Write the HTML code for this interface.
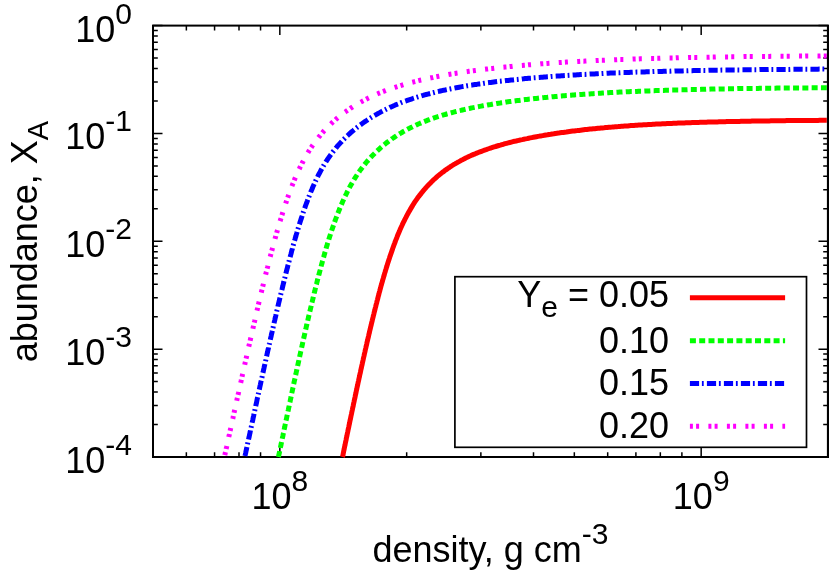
<!DOCTYPE html>
<html><head><meta charset="utf-8"><title>abundance vs density</title>
<style>
html,body{margin:0;padding:0;background:#fff;}
body{width:830px;height:573px;overflow:hidden;}
svg{display:block;will-change:transform;}
text{font-family:"Liberation Sans",sans-serif;font-size:36px;fill:#000;}
.s{font-size:30px;}
</style></head><body>
<svg width="830" height="573" viewBox="0 0 830 573">
<rect width="830" height="573" fill="#fff"/>
<path d="M279.83 457.00V447.50 M279.83 25.60V35.10 M701.17 457.00V447.50 M701.17 25.60V35.10 M186.36 457.00V452.20 M186.36 25.60V30.40 M214.57 457.00V452.20 M214.57 25.60V30.40 M239.00 457.00V452.20 M239.00 25.60V30.40 M260.55 457.00V452.20 M260.55 25.60V30.40 M406.67 457.00V452.20 M406.67 25.60V30.40 M480.86 457.00V452.20 M480.86 25.60V30.40 M533.50 457.00V452.20 M533.50 25.60V30.40 M574.33 457.00V452.20 M574.33 25.60V30.40 M607.69 457.00V452.20 M607.69 25.60V30.40 M635.90 457.00V452.20 M635.90 25.60V30.40 M660.33 457.00V452.20 M660.33 25.60V30.40 M681.89 457.00V452.20 M681.89 25.60V30.40 M153.00 25.60H162.50 M828.00 25.60H818.50 M153.00 100.98H157.80 M828.00 100.98H823.20 M153.00 81.99H157.80 M828.00 81.99H823.20 M153.00 68.52H157.80 M828.00 68.52H823.20 M153.00 58.07H157.80 M828.00 58.07H823.20 M153.00 49.53H157.80 M828.00 49.53H823.20 M153.00 42.31H157.80 M828.00 42.31H823.20 M153.00 36.05H157.80 M828.00 36.05H823.20 M153.00 30.53H157.80 M828.00 30.53H823.20 M153.00 133.45H162.50 M828.00 133.45H818.50 M153.00 208.83H157.80 M828.00 208.83H823.20 M153.00 189.84H157.80 M828.00 189.84H823.20 M153.00 176.37H157.80 M828.00 176.37H823.20 M153.00 165.92H157.80 M828.00 165.92H823.20 M153.00 157.38H157.80 M828.00 157.38H823.20 M153.00 150.16H157.80 M828.00 150.16H823.20 M153.00 143.90H157.80 M828.00 143.90H823.20 M153.00 138.38H157.80 M828.00 138.38H823.20 M153.00 241.30H162.50 M828.00 241.30H818.50 M153.00 316.68H157.80 M828.00 316.68H823.20 M153.00 297.69H157.80 M828.00 297.69H823.20 M153.00 284.22H157.80 M828.00 284.22H823.20 M153.00 273.77H157.80 M828.00 273.77H823.20 M153.00 265.23H157.80 M828.00 265.23H823.20 M153.00 258.01H157.80 M828.00 258.01H823.20 M153.00 251.75H157.80 M828.00 251.75H823.20 M153.00 246.23H157.80 M828.00 246.23H823.20 M153.00 349.15H162.50 M828.00 349.15H818.50 M153.00 424.53H157.80 M828.00 424.53H823.20 M153.00 405.54H157.80 M828.00 405.54H823.20 M153.00 392.07H157.80 M828.00 392.07H823.20 M153.00 381.62H157.80 M828.00 381.62H823.20 M153.00 373.08H157.80 M828.00 373.08H823.20 M153.00 365.86H157.80 M828.00 365.86H823.20 M153.00 359.60H157.80 M828.00 359.60H823.20 M153.00 354.08H157.80 M828.00 354.08H823.20 M153.00 457.00H162.50 M828.00 457.00H818.50" stroke="#000" stroke-width="1.5" fill="none"/>
<rect x="153" y="25.6" width="675" height="431.4" fill="none" stroke="#000" stroke-width="2"/>
<g fill="none" stroke-width="5" stroke-linejoin="round">
<path d="M342.5 457.0 L342.9 455.5 L343.3 453.3 L343.7 451.1 L344.2 448.9 L344.6 446.8 L345.1 444.6 L345.5 442.4 L346.0 440.2 L346.4 438.0 L346.9 435.9 L347.3 433.7 L347.8 431.5 L348.2 429.4 L348.7 427.2 L349.1 425.1 L349.6 422.9 L350.0 420.7 L350.5 418.6 L350.9 416.5 L351.4 414.3 L351.8 412.2 L352.3 410.0 L352.7 407.9 L353.2 405.8 L353.6 403.6 L354.1 401.5 L354.5 399.4 L355.0 397.3 L355.4 395.2 L355.9 393.1 L356.3 391.0 L356.8 388.9 L357.2 386.8 L357.7 384.7 L358.1 382.6 L358.6 380.5 L359.0 378.5 L359.5 376.4 L359.9 374.3 L360.4 372.3 L360.8 370.2 L361.3 368.2 L361.7 366.1 L362.2 364.1 L362.6 362.1 L363.1 360.0 L363.5 358.0 L364.0 356.0 L364.4 354.0 L364.9 352.0 L365.3 350.0 L365.8 348.0 L366.2 346.1 L366.7 344.1 L367.1 342.1 L367.6 340.2 L368.0 338.3 L368.5 336.3 L368.9 334.4 L369.4 332.5 L369.8 330.6 L370.3 328.7 L370.7 326.8 L371.2 324.9 L371.6 323.0 L372.1 321.1 L372.5 319.3 L373.0 317.4 L373.4 315.6 L373.9 313.8 L374.3 312.0 L374.8 310.2 L375.2 308.4 L375.7 306.6 L376.1 304.8 L376.6 303.1 L377.0 301.3 L377.5 299.6 L377.9 297.9 L378.3 296.2 L378.8 294.5 L379.2 292.8 L379.7 291.1 L380.1 289.4 L380.6 287.8 L381.0 286.1 L381.5 284.5 L381.9 282.9 L382.4 281.3 L382.8 279.7 L383.3 278.2 L383.7 276.6 L384.2 275.1 L384.6 273.5 L385.1 272.0 L385.5 270.5 L386.0 269.0 L386.4 267.6 L386.9 266.1 L387.3 264.7 L388.0 262.5 L388.7 260.4 L389.4 258.3 L390.0 256.3 L390.7 254.3 L391.4 252.3 L392.1 250.4 L392.7 248.5 L393.4 246.6 L394.1 244.7 L394.8 242.9 L395.4 241.1 L396.1 239.4 L396.8 237.7 L397.4 236.0 L398.1 234.3 L398.8 232.7 L399.5 231.1 L400.1 229.6 L400.8 228.0 L401.5 226.5 L402.2 225.0 L402.8 223.6 L403.5 222.2 L404.2 220.8 L404.9 219.4 L405.8 217.7 L406.7 215.9 L407.6 214.2 L408.5 212.6 L409.4 211.0 L410.3 209.4 L411.2 207.9 L412.1 206.4 L412.9 205.0 L413.8 203.6 L414.7 202.2 L415.6 200.9 L416.5 199.6 L417.4 198.3 L418.3 197.1 L419.2 195.9 L420.4 194.4 L421.5 192.9 L422.6 191.6 L423.7 190.2 L424.9 188.9 L426.0 187.6 L427.1 186.4 L428.2 185.2 L429.4 184.0 L430.5 182.9 L431.6 181.8 L432.7 180.7 L433.8 179.6 L435.0 178.6 L436.1 177.6 L437.4 176.4 L438.8 175.3 L440.1 174.2 L441.5 173.1 L442.8 172.1 L444.2 171.1 L445.5 170.1 L446.9 169.1 L448.2 168.2 L449.6 167.3 L450.9 166.4 L452.3 165.5 L453.6 164.7 L455.0 163.9 L456.3 163.1 L457.7 162.3 L459.0 161.6 L460.4 160.8 L461.7 160.1 L463.1 159.4 L464.4 158.7 L465.7 158.0 L467.3 157.3 L468.9 156.5 L470.5 155.8 L472.0 155.1 L473.6 154.4 L475.2 153.8 L476.8 153.1 L478.3 152.5 L479.9 151.9 L481.5 151.3 L483.0 150.7 L484.6 150.1 L486.2 149.6 L487.8 149.0 L489.3 148.5 L490.9 148.0 L492.5 147.4 L494.1 146.9 L495.6 146.5 L497.2 146.0 L498.8 145.5 L500.3 145.1 L501.9 144.6 L503.5 144.2 L505.1 143.7 L506.6 143.3 L508.2 142.9 L509.8 142.5 L511.4 142.1 L512.9 141.7 L514.5 141.3 L516.1 141.0 L517.6 140.6 L519.2 140.3 L520.8 139.9 L522.4 139.6 L523.9 139.2 L525.5 138.9 L527.1 138.6 L528.7 138.2 L530.2 137.9 L531.8 137.6 L533.4 137.3 L534.9 137.0 L536.5 136.7 L538.1 136.4 L539.7 136.1 L541.2 135.9 L542.8 135.6 L544.4 135.3 L546.0 135.0 L547.5 134.8 L549.1 134.5 L550.7 134.3 L552.2 134.0 L553.8 133.8 L555.4 133.5 L557.0 133.3 L558.5 133.1 L560.1 132.8 L561.7 132.6 L563.3 132.4 L564.8 132.2 L566.4 132.0 L568.0 131.7 L569.5 131.5 L571.1 131.3 L572.7 131.1 L574.3 130.9 L575.8 130.7 L577.4 130.6 L579.0 130.4 L580.6 130.2 L582.1 130.0 L583.7 129.8 L585.3 129.6 L586.8 129.5 L588.4 129.3 L590.0 129.1 L591.6 129.0 L593.1 128.8 L594.7 128.7 L596.3 128.5 L597.9 128.3 L599.4 128.2 L601.0 128.0 L602.6 127.9 L604.1 127.8 L605.7 127.6 L607.3 127.5 L608.9 127.3 L610.4 127.2 L612.0 127.1 L613.6 126.9 L615.2 126.8 L616.7 126.7 L618.3 126.6 L619.9 126.4 L621.4 126.3 L623.0 126.2 L624.6 126.1 L626.2 126.0 L627.7 125.9 L629.3 125.7 L630.9 125.6 L632.5 125.5 L634.0 125.4 L635.6 125.3 L637.2 125.2 L638.7 125.1 L640.3 125.0 L641.9 124.9 L643.5 124.8 L645.0 124.7 L646.6 124.7 L648.2 124.6 L649.8 124.5 L651.3 124.4 L652.9 124.3 L654.5 124.2 L656.0 124.1 L657.6 124.1 L659.2 124.0 L660.8 123.9 L662.3 123.8 L663.9 123.8 L665.5 123.7 L667.1 123.6 L668.6 123.5 L670.2 123.5 L671.8 123.4 L673.3 123.3 L674.9 123.3 L676.5 123.2 L678.1 123.1 L679.6 123.1 L681.2 123.0 L682.8 122.9 L684.4 122.9 L685.9 122.8 L687.5 122.8 L689.1 122.7 L690.6 122.7 L692.2 122.6 L693.8 122.6 L695.4 122.5 L696.9 122.5 L698.5 122.4 L700.1 122.3 L701.7 122.3 L703.2 122.3 L704.8 122.2 L706.4 122.2 L707.9 122.1 L709.5 122.1 L711.1 122.0 L712.7 122.0 L714.2 121.9 L715.8 121.9 L717.4 121.9 L719.0 121.8 L720.5 121.8 L722.1 121.7 L723.7 121.7 L725.2 121.7 L726.8 121.6 L728.4 121.6 L730.0 121.6 L731.5 121.5 L733.1 121.5 L734.7 121.5 L736.3 121.4 L737.8 121.4 L739.4 121.4 L741.0 121.3 L742.5 121.3 L744.1 121.3 L745.7 121.2 L747.3 121.2 L748.8 121.2 L750.4 121.2 L752.0 121.1 L753.6 121.1 L755.1 121.1 L756.7 121.1 L758.3 121.0 L759.8 121.0 L761.4 121.0 L763.0 121.0 L764.6 120.9 L766.1 120.9 L767.7 120.9 L769.3 120.9 L770.9 120.8 L772.4 120.8 L774.0 120.8 L775.6 120.8 L777.1 120.8 L778.7 120.7 L780.3 120.7 L781.9 120.7 L783.4 120.7 L785.0 120.7 L786.6 120.6 L788.2 120.6 L789.7 120.6 L791.3 120.6 L792.9 120.6 L794.4 120.6 L796.0 120.5 L797.6 120.5 L799.2 120.5 L800.7 120.5 L802.3 120.5 L803.9 120.5 L805.5 120.5 L807.0 120.4 L808.6 120.4 L810.2 120.4 L811.7 120.4 L813.3 120.4 L814.9 120.4 L816.5 120.4 L818.0 120.4 L819.6 120.3 L821.2 120.3 L822.8 120.3 L824.3 120.3 L825.9 120.3 L826.8 120.3" stroke="#ff0000"/>
<path d="M278.5 457.0 L278.8 455.2 L279.3 453.1 L279.7 450.9 L280.2 448.7 L280.6 446.6 L281.1 444.4 L281.5 442.2 L282.0 440.1 L282.4 437.9 L282.9 435.8 L283.3 433.6 L283.8 431.5 L284.2 429.3 L284.7 427.1 L285.1 425.0 L285.6 422.8 L286.0 420.7 L286.5 418.6 L286.9 416.4 L287.4 414.3 L287.8 412.1 L288.3 410.0 L288.7 407.9 L289.2 405.7 L289.6 403.6 L290.1 401.5 L290.5 399.3 L291.0 397.2 L291.4 395.1 L291.8 393.0 L292.3 390.9 L292.7 388.8 L293.2 386.7 L293.6 384.5 L294.1 382.4 L294.5 380.3 L295.0 378.3 L295.4 376.2 L295.9 374.1 L296.3 372.0 L296.8 369.9 L297.2 367.8 L297.7 365.7 L298.1 363.7 L298.6 361.6 L299.0 359.5 L299.5 357.5 L299.9 355.4 L300.4 353.4 L300.8 351.3 L301.3 349.3 L301.7 347.3 L302.2 345.2 L302.6 343.2 L303.1 341.2 L303.5 339.2 L304.0 337.2 L304.4 335.2 L304.9 333.2 L305.3 331.2 L305.8 329.2 L306.2 327.2 L306.7 325.2 L307.1 323.3 L307.6 321.3 L308.0 319.4 L308.5 317.4 L308.9 315.5 L309.4 313.5 L309.8 311.6 L310.3 309.7 L310.7 307.8 L311.2 305.9 L311.6 304.0 L312.1 302.1 L312.5 300.3 L313.0 298.4 L313.4 296.5 L313.9 294.7 L314.3 292.8 L314.8 291.0 L315.2 289.2 L315.7 287.4 L316.1 285.6 L316.6 283.8 L317.0 282.0 L317.5 280.2 L317.9 278.5 L318.4 276.7 L318.8 275.0 L319.3 273.3 L319.7 271.6 L320.2 269.9 L320.6 268.2 L321.1 266.5 L321.5 264.8 L322.0 263.2 L322.4 261.5 L322.9 259.9 L323.3 258.3 L323.8 256.7 L324.2 255.1 L324.7 253.5 L325.1 251.9 L325.6 250.4 L326.0 248.9 L326.4 247.3 L326.9 245.8 L327.3 244.3 L327.8 242.8 L328.2 241.4 L328.7 239.9 L329.1 238.5 L329.8 236.3 L330.5 234.2 L331.2 232.1 L331.8 230.1 L332.5 228.1 L333.2 226.1 L333.9 224.2 L334.5 222.3 L335.2 220.4 L335.9 218.5 L336.6 216.7 L337.2 214.9 L337.9 213.2 L338.6 211.4 L339.3 209.8 L339.9 208.1 L340.6 206.5 L341.3 204.9 L342.0 203.3 L342.6 201.7 L343.3 200.2 L344.0 198.7 L344.6 197.3 L345.3 195.9 L346.0 194.5 L346.7 193.1 L347.3 191.7 L348.2 190.0 L349.1 188.3 L350.0 186.6 L350.9 185.0 L351.8 183.4 L352.7 181.8 L353.6 180.3 L354.5 178.8 L355.4 177.4 L356.3 176.0 L357.2 174.6 L358.1 173.3 L359.0 172.0 L359.9 170.7 L360.8 169.4 L361.7 168.2 L362.8 166.7 L364.0 165.3 L365.1 163.9 L366.2 162.5 L367.3 161.2 L368.5 159.9 L369.6 158.6 L370.7 157.4 L371.8 156.2 L373.0 155.0 L374.1 153.9 L375.2 152.8 L376.3 151.7 L377.5 150.6 L378.6 149.6 L379.7 148.6 L381.0 147.4 L382.4 146.2 L383.7 145.1 L385.1 144.0 L386.4 142.9 L387.8 141.9 L389.1 140.9 L390.5 139.9 L391.8 138.9 L393.2 138.0 L394.5 137.1 L395.9 136.2 L397.2 135.3 L398.6 134.4 L399.9 133.6 L401.3 132.8 L402.6 132.0 L404.0 131.2 L405.3 130.5 L406.7 129.7 L408.0 129.0 L409.4 128.3 L410.7 127.6 L412.1 127.0 L413.6 126.2 L415.2 125.5 L416.8 124.7 L418.3 124.0 L419.9 123.4 L421.5 122.7 L423.1 122.0 L424.6 121.4 L426.2 120.8 L427.8 120.2 L429.4 119.6 L430.9 119.0 L432.5 118.5 L434.1 117.9 L435.6 117.4 L437.2 116.9 L438.8 116.4 L440.4 115.9 L441.9 115.4 L443.5 114.9 L445.1 114.5 L446.7 114.0 L448.2 113.6 L449.8 113.1 L451.4 112.7 L452.9 112.3 L454.5 111.9 L456.1 111.5 L457.7 111.1 L459.2 110.7 L460.8 110.4 L462.4 110.0 L464.0 109.6 L465.5 109.3 L467.1 108.9 L468.7 108.6 L470.2 108.3 L471.8 107.9 L473.4 107.6 L475.0 107.3 L476.5 107.0 L478.1 106.7 L479.7 106.4 L481.3 106.1 L482.8 105.8 L484.4 105.5 L486.0 105.3 L487.5 105.0 L489.1 104.7 L490.7 104.5 L492.3 104.2 L493.8 103.9 L495.4 103.7 L497.0 103.4 L498.5 103.2 L500.1 103.0 L501.7 102.7 L503.3 102.5 L504.8 102.3 L506.4 102.0 L508.0 101.8 L509.6 101.6 L511.1 101.4 L512.7 101.2 L514.3 101.0 L515.8 100.8 L517.4 100.6 L519.0 100.4 L520.6 100.2 L522.1 100.0 L523.7 99.8 L525.3 99.6 L526.9 99.4 L528.4 99.2 L530.0 99.1 L531.6 98.9 L533.1 98.7 L534.7 98.5 L536.3 98.4 L537.9 98.2 L539.4 98.0 L541.0 97.9 L542.6 97.7 L544.2 97.6 L545.7 97.4 L547.3 97.3 L548.9 97.1 L550.4 97.0 L552.0 96.8 L553.6 96.7 L555.2 96.5 L556.7 96.4 L558.3 96.2 L559.9 96.1 L561.5 96.0 L563.0 95.8 L564.6 95.7 L566.2 95.6 L567.7 95.5 L569.3 95.3 L570.9 95.2 L572.5 95.1 L574.0 95.0 L575.6 94.8 L577.2 94.7 L578.8 94.6 L580.3 94.5 L581.9 94.4 L583.5 94.3 L585.0 94.2 L586.6 94.1 L588.2 94.0 L589.8 93.9 L591.3 93.8 L592.9 93.7 L594.5 93.6 L596.1 93.5 L597.6 93.4 L599.2 93.3 L600.8 93.2 L602.3 93.1 L603.9 93.0 L605.5 92.9 L607.1 92.8 L608.6 92.7 L610.2 92.6 L611.8 92.6 L613.4 92.5 L614.9 92.4 L616.5 92.3 L618.1 92.2 L619.6 92.1 L621.2 92.1 L622.8 92.0 L624.4 91.9 L625.9 91.8 L627.5 91.8 L629.1 91.7 L630.7 91.6 L632.2 91.6 L633.8 91.5 L635.4 91.4 L636.9 91.4 L638.5 91.3 L640.1 91.2 L641.7 91.2 L643.2 91.1 L644.8 91.0 L646.4 91.0 L648.0 90.9 L649.5 90.9 L651.1 90.8 L652.7 90.7 L654.2 90.7 L655.8 90.6 L657.4 90.6 L659.0 90.5 L660.5 90.5 L662.1 90.4 L663.7 90.4 L665.3 90.3 L666.8 90.3 L668.4 90.2 L670.0 90.2 L671.5 90.1 L673.1 90.1 L674.7 90.0 L676.3 90.0 L677.8 89.9 L679.4 89.9 L681.0 89.8 L682.6 89.8 L684.1 89.8 L685.7 89.7 L687.3 89.7 L688.8 89.6 L690.4 89.6 L692.0 89.6 L693.6 89.5 L695.1 89.5 L696.7 89.4 L698.3 89.4 L699.9 89.4 L701.4 89.3 L703.0 89.3 L704.6 89.3 L706.1 89.2 L707.7 89.2 L709.3 89.2 L710.9 89.1 L712.4 89.1 L714.0 89.1 L715.6 89.0 L717.2 89.0 L718.7 89.0 L720.3 88.9 L721.9 88.9 L723.4 88.9 L725.0 88.9 L726.6 88.8 L728.2 88.8 L729.7 88.8 L731.3 88.8 L732.9 88.7 L734.5 88.7 L736.0 88.7 L737.6 88.6 L739.2 88.6 L740.7 88.6 L742.3 88.6 L743.9 88.6 L745.5 88.5 L747.0 88.5 L748.6 88.5 L750.2 88.5 L751.8 88.4 L753.3 88.4 L754.9 88.4 L756.5 88.4 L758.0 88.4 L759.6 88.3 L761.2 88.3 L762.8 88.3 L764.3 88.3 L765.9 88.3 L767.5 88.2 L769.1 88.2 L770.6 88.2 L772.2 88.2 L773.8 88.2 L775.3 88.2 L776.9 88.1 L778.5 88.1 L780.1 88.1 L781.6 88.1 L783.2 88.1 L784.8 88.1 L786.4 88.0 L787.9 88.0 L789.5 88.0 L791.1 88.0 L792.6 88.0 L794.2 88.0 L795.8 88.0 L797.4 87.9 L798.9 87.9 L800.5 87.9 L802.1 87.9 L803.7 87.9 L805.2 87.9 L806.8 87.9 L808.4 87.9 L809.9 87.8 L811.5 87.8 L813.1 87.8 L814.7 87.8 L816.2 87.8 L817.8 87.8 L819.4 87.8 L821.0 87.8 L822.5 87.8 L824.1 87.7 L825.7 87.7 L826.8 87.7" stroke="#00ff00" stroke-dasharray="6 3.3"/>
<path d="M244.8 457.0 L245.1 455.5 L245.6 453.3 L246.0 451.2 L246.5 449.1 L246.9 447.0 L247.4 444.9 L247.8 442.8 L248.3 440.7 L248.7 438.7 L249.2 436.6 L249.6 434.5 L250.1 432.4 L250.5 430.3 L251.0 428.2 L251.4 426.1 L251.9 424.0 L252.3 421.9 L252.8 419.8 L253.2 417.7 L253.7 415.6 L254.1 413.6 L254.6 411.5 L255.0 409.4 L255.5 407.3 L255.9 405.2 L256.4 403.2 L256.8 401.1 L257.2 399.0 L257.7 396.9 L258.1 394.9 L258.6 392.8 L259.0 390.7 L259.5 388.7 L259.9 386.6 L260.4 384.5 L260.8 382.5 L261.3 380.4 L261.7 378.4 L262.2 376.3 L262.6 374.3 L263.1 372.2 L263.5 370.2 L264.0 368.1 L264.4 366.1 L264.9 364.0 L265.3 362.0 L265.8 360.0 L266.2 357.9 L266.7 355.9 L267.1 353.9 L267.6 351.9 L268.0 349.8 L268.5 347.8 L268.9 345.8 L269.4 343.8 L269.8 341.8 L270.3 339.8 L270.7 337.8 L271.2 335.8 L271.6 333.8 L272.1 331.8 L272.5 329.8 L273.0 327.9 L273.4 325.9 L273.9 323.9 L274.3 322.0 L274.8 320.0 L275.2 318.0 L275.7 316.1 L276.1 314.2 L276.6 312.2 L277.0 310.3 L277.5 308.4 L277.9 306.4 L278.4 304.5 L278.8 302.6 L279.3 300.7 L279.7 298.8 L280.2 296.9 L280.6 295.0 L281.1 293.1 L281.5 291.3 L282.0 289.4 L282.4 287.6 L282.9 285.7 L283.3 283.9 L283.8 282.0 L284.2 280.2 L284.7 278.4 L285.1 276.6 L285.6 274.8 L286.0 273.0 L286.5 271.2 L286.9 269.4 L287.4 267.7 L287.8 265.9 L288.3 264.2 L288.7 262.4 L289.2 260.7 L289.6 259.0 L290.1 257.3 L290.5 255.6 L291.0 253.9 L291.4 252.2 L291.8 250.5 L292.3 248.9 L292.7 247.2 L293.2 245.6 L293.6 244.0 L294.1 242.4 L294.5 240.8 L295.0 239.2 L295.4 237.6 L295.9 236.1 L296.3 234.5 L296.8 233.0 L297.2 231.5 L297.7 230.0 L298.1 228.5 L298.6 227.0 L299.0 225.5 L299.5 224.1 L299.9 222.6 L300.6 220.5 L301.3 218.4 L302.0 216.3 L302.6 214.2 L303.3 212.2 L304.0 210.2 L304.7 208.3 L305.3 206.4 L306.0 204.5 L306.7 202.6 L307.4 200.8 L308.0 199.0 L308.7 197.2 L309.4 195.5 L310.0 193.8 L310.7 192.1 L311.4 190.5 L312.1 188.9 L312.7 187.3 L313.4 185.8 L314.1 184.3 L314.8 182.8 L315.4 181.3 L316.1 179.9 L316.8 178.5 L317.5 177.1 L318.1 175.7 L319.0 174.0 L319.9 172.3 L320.8 170.6 L321.7 169.0 L322.6 167.4 L323.5 165.8 L324.4 164.3 L325.3 162.9 L326.2 161.4 L327.1 160.0 L328.0 158.7 L328.9 157.4 L329.8 156.1 L330.7 154.8 L331.6 153.6 L332.5 152.4 L333.6 150.9 L334.8 149.5 L335.9 148.1 L337.0 146.7 L338.1 145.4 L339.3 144.1 L340.4 142.9 L341.5 141.7 L342.6 140.5 L343.7 139.3 L344.9 138.2 L346.0 137.1 L347.1 136.0 L348.2 135.0 L349.4 133.9 L350.5 132.9 L351.8 131.7 L353.2 130.6 L354.5 129.5 L355.9 128.4 L357.2 127.3 L358.6 126.3 L359.9 125.2 L361.3 124.2 L362.6 123.3 L364.0 122.3 L365.3 121.4 L366.7 120.5 L368.0 119.6 L369.4 118.7 L370.7 117.8 L372.1 117.0 L373.4 116.2 L374.8 115.4 L376.1 114.6 L377.5 113.8 L378.8 113.1 L380.1 112.4 L381.5 111.6 L382.8 110.9 L384.2 110.2 L385.5 109.6 L386.9 108.9 L388.5 108.2 L390.0 107.4 L391.6 106.7 L393.2 106.0 L394.8 105.3 L396.3 104.6 L397.9 104.0 L399.5 103.4 L401.0 102.7 L402.6 102.1 L404.2 101.5 L405.8 101.0 L407.3 100.4 L408.9 99.8 L410.5 99.3 L412.1 98.8 L413.6 98.2 L415.2 97.7 L416.8 97.2 L418.3 96.8 L419.9 96.3 L421.5 95.8 L423.1 95.4 L424.6 94.9 L426.2 94.5 L427.8 94.1 L429.4 93.7 L430.9 93.3 L432.5 92.9 L434.1 92.5 L435.6 92.1 L437.2 91.7 L438.8 91.4 L440.4 91.0 L441.9 90.6 L443.5 90.3 L445.1 90.0 L446.7 89.6 L448.2 89.3 L449.8 89.0 L451.4 88.7 L452.9 88.4 L454.5 88.1 L456.1 87.8 L457.7 87.5 L459.2 87.2 L460.8 86.9 L462.4 86.6 L464.0 86.4 L465.5 86.1 L467.1 85.8 L468.7 85.6 L470.2 85.3 L471.8 85.1 L473.4 84.8 L475.0 84.6 L476.5 84.4 L478.1 84.1 L479.7 83.9 L481.3 83.7 L482.8 83.5 L484.4 83.2 L486.0 83.0 L487.5 82.8 L489.1 82.6 L490.7 82.4 L492.3 82.2 L493.8 82.0 L495.4 81.8 L497.0 81.6 L498.5 81.4 L500.1 81.3 L501.7 81.1 L503.3 80.9 L504.8 80.7 L506.4 80.5 L508.0 80.4 L509.6 80.2 L511.1 80.0 L512.7 79.9 L514.3 79.7 L515.8 79.5 L517.4 79.4 L519.0 79.2 L520.6 79.1 L522.1 78.9 L523.7 78.8 L525.3 78.6 L526.9 78.5 L528.4 78.3 L530.0 78.2 L531.6 78.1 L533.1 77.9 L534.7 77.8 L536.3 77.7 L537.9 77.5 L539.4 77.4 L541.0 77.3 L542.6 77.2 L544.2 77.0 L545.7 76.9 L547.3 76.8 L548.9 76.7 L550.4 76.6 L552.0 76.4 L553.6 76.3 L555.2 76.2 L556.7 76.1 L558.3 76.0 L559.9 75.9 L561.5 75.8 L563.0 75.7 L564.6 75.6 L566.2 75.5 L567.7 75.4 L569.3 75.3 L570.9 75.2 L572.5 75.1 L574.0 75.0 L575.6 74.9 L577.2 74.8 L578.8 74.7 L580.3 74.6 L581.9 74.5 L583.5 74.4 L585.0 74.4 L586.6 74.3 L588.2 74.2 L589.8 74.1 L591.3 74.0 L592.9 74.0 L594.5 73.9 L596.1 73.8 L597.6 73.7 L599.2 73.6 L600.8 73.6 L602.3 73.5 L603.9 73.4 L605.5 73.4 L607.1 73.3 L608.6 73.2 L610.2 73.1 L611.8 73.1 L613.4 73.0 L614.9 72.9 L616.5 72.9 L618.1 72.8 L619.6 72.8 L621.2 72.7 L622.8 72.6 L624.4 72.6 L625.9 72.5 L627.5 72.5 L629.1 72.4 L630.7 72.3 L632.2 72.3 L633.8 72.2 L635.4 72.2 L636.9 72.1 L638.5 72.1 L640.1 72.0 L641.7 72.0 L643.2 71.9 L644.8 71.9 L646.4 71.8 L648.0 71.8 L649.5 71.7 L651.1 71.7 L652.7 71.6 L654.2 71.6 L655.8 71.5 L657.4 71.5 L659.0 71.4 L660.5 71.4 L662.1 71.4 L663.7 71.3 L665.3 71.3 L666.8 71.2 L668.4 71.2 L670.0 71.2 L671.5 71.1 L673.1 71.1 L674.7 71.0 L676.3 71.0 L677.8 71.0 L679.4 70.9 L681.0 70.9 L682.6 70.9 L684.1 70.8 L685.7 70.8 L687.3 70.8 L688.8 70.7 L690.4 70.7 L692.0 70.7 L693.6 70.6 L695.1 70.6 L696.7 70.6 L698.3 70.5 L699.9 70.5 L701.4 70.5 L703.0 70.4 L704.6 70.4 L706.1 70.4 L707.7 70.4 L709.3 70.3 L710.9 70.3 L712.4 70.3 L714.0 70.3 L715.6 70.2 L717.2 70.2 L718.7 70.2 L720.3 70.2 L721.9 70.1 L723.4 70.1 L725.0 70.1 L726.6 70.1 L728.2 70.0 L729.7 70.0 L731.3 70.0 L732.9 70.0 L734.5 69.9 L736.0 69.9 L737.6 69.9 L739.2 69.9 L740.7 69.9 L742.3 69.8 L743.9 69.8 L745.5 69.8 L747.0 69.8 L748.6 69.8 L750.2 69.7 L751.8 69.7 L753.3 69.7 L754.9 69.7 L756.5 69.7 L758.0 69.7 L759.6 69.6 L761.2 69.6 L762.8 69.6 L764.3 69.6 L765.9 69.6 L767.5 69.6 L769.1 69.5 L770.6 69.5 L772.2 69.5 L773.8 69.5 L775.3 69.5 L776.9 69.5 L778.5 69.5 L780.1 69.4 L781.6 69.4 L783.2 69.4 L784.8 69.4 L786.4 69.4 L787.9 69.4 L789.5 69.4 L791.1 69.3 L792.6 69.3 L794.2 69.3 L795.8 69.3 L797.4 69.3 L798.9 69.3 L800.5 69.3 L802.1 69.3 L803.7 69.3 L805.2 69.2 L806.8 69.2 L808.4 69.2 L809.9 69.2 L811.5 69.2 L813.1 69.2 L814.7 69.2 L816.2 69.2 L817.8 69.2 L819.4 69.1 L821.0 69.1 L822.5 69.1 L824.1 69.1 L825.7 69.1 L826.8 69.1" stroke="#0000ff" stroke-dasharray="9.2 2.8 1.8 3.2" stroke-dashoffset="-1"/>
<path d="M224.4 457.0 L224.9 454.9 L225.3 452.8 L225.8 450.8 L226.2 448.7 L226.7 446.6 L227.1 444.6 L227.6 442.5 L228.0 440.5 L228.5 438.4 L228.9 436.3 L229.4 434.3 L229.8 432.2 L230.3 430.2 L230.7 428.1 L231.2 426.0 L231.6 424.0 L232.1 421.9 L232.5 419.9 L233.0 417.8 L233.4 415.8 L233.9 413.7 L234.3 411.7 L234.8 409.6 L235.2 407.6 L235.7 405.5 L236.1 403.5 L236.6 401.4 L237.0 399.4 L237.5 397.4 L237.9 395.3 L238.4 393.3 L238.8 391.2 L239.3 389.2 L239.7 387.2 L240.2 385.1 L240.6 383.1 L241.1 381.1 L241.5 379.1 L242.0 377.0 L242.4 375.0 L242.9 373.0 L243.3 371.0 L243.8 369.0 L244.2 366.9 L244.7 364.9 L245.1 362.9 L245.6 360.9 L246.0 358.9 L246.5 356.9 L246.9 354.9 L247.4 352.9 L247.8 350.9 L248.3 348.9 L248.7 346.9 L249.2 344.9 L249.6 342.9 L250.1 341.0 L250.5 339.0 L251.0 337.0 L251.4 335.0 L251.9 333.1 L252.3 331.1 L252.8 329.1 L253.2 327.2 L253.7 325.2 L254.1 323.3 L254.6 321.3 L255.0 319.4 L255.5 317.4 L255.9 315.5 L256.4 313.6 L256.8 311.6 L257.2 309.7 L257.7 307.8 L258.1 305.9 L258.6 304.0 L259.0 302.1 L259.5 300.2 L259.9 298.3 L260.4 296.4 L260.8 294.5 L261.3 292.6 L261.7 290.8 L262.2 288.9 L262.6 287.1 L263.1 285.2 L263.5 283.4 L264.0 281.5 L264.4 279.7 L264.9 277.9 L265.3 276.0 L265.8 274.2 L266.2 272.4 L266.7 270.6 L267.1 268.8 L267.6 267.1 L268.0 265.3 L268.5 263.5 L268.9 261.8 L269.4 260.0 L269.8 258.3 L270.3 256.5 L270.7 254.8 L271.2 253.1 L271.6 251.4 L272.1 249.7 L272.5 248.0 L273.0 246.3 L273.4 244.7 L273.9 243.0 L274.3 241.4 L274.8 239.7 L275.2 238.1 L275.7 236.5 L276.1 234.9 L276.6 233.3 L277.0 231.7 L277.5 230.1 L277.9 228.6 L278.4 227.0 L278.8 225.5 L279.3 224.0 L279.7 222.4 L280.2 220.9 L280.6 219.5 L281.1 218.0 L281.5 216.5 L282.0 215.1 L282.4 213.6 L283.1 211.5 L283.8 209.4 L284.4 207.3 L285.1 205.2 L285.8 203.2 L286.5 201.2 L287.1 199.3 L287.8 197.3 L288.5 195.4 L289.2 193.6 L289.8 191.7 L290.5 189.9 L291.2 188.1 L291.8 186.4 L292.5 184.6 L293.2 182.9 L293.9 181.3 L294.5 179.6 L295.2 178.0 L295.9 176.5 L296.6 174.9 L297.2 173.4 L297.9 171.9 L298.6 170.4 L299.3 169.0 L299.9 167.6 L300.6 166.2 L301.3 164.8 L302.2 163.0 L303.1 161.3 L304.0 159.6 L304.9 158.0 L305.8 156.4 L306.7 154.8 L307.6 153.3 L308.5 151.8 L309.4 150.3 L310.3 148.9 L311.2 147.5 L312.1 146.2 L313.0 144.9 L313.9 143.6 L314.8 142.3 L315.7 141.1 L316.8 139.6 L317.9 138.2 L319.0 136.8 L320.2 135.4 L321.3 134.0 L322.4 132.7 L323.5 131.5 L324.7 130.2 L325.8 129.0 L326.9 127.9 L328.0 126.7 L329.1 125.6 L330.3 124.5 L331.4 123.4 L332.5 122.4 L333.6 121.4 L334.8 120.4 L336.1 119.2 L337.5 118.0 L338.8 116.9 L340.2 115.8 L341.5 114.8 L342.9 113.8 L344.2 112.7 L345.5 111.8 L346.9 110.8 L348.2 109.9 L349.6 108.9 L350.9 108.0 L352.3 107.2 L353.6 106.3 L355.0 105.5 L356.3 104.7 L357.7 103.9 L359.0 103.1 L360.4 102.3 L361.7 101.6 L363.1 100.8 L364.4 100.1 L365.8 99.4 L367.1 98.7 L368.5 98.0 L369.8 97.4 L371.4 96.6 L373.0 95.9 L374.5 95.2 L376.1 94.5 L377.7 93.8 L379.2 93.1 L380.8 92.5 L382.4 91.8 L384.0 91.2 L385.5 90.6 L387.1 90.0 L388.7 89.5 L390.3 88.9 L391.8 88.3 L393.4 87.8 L395.0 87.3 L396.5 86.8 L398.1 86.3 L399.7 85.8 L401.3 85.3 L402.8 84.8 L404.4 84.3 L406.0 83.9 L407.6 83.4 L409.1 83.0 L410.7 82.6 L412.3 82.2 L413.8 81.8 L415.4 81.4 L417.0 81.0 L418.6 80.6 L420.1 80.2 L421.7 79.9 L423.3 79.5 L424.9 79.1 L426.4 78.8 L428.0 78.4 L429.6 78.1 L431.1 77.8 L432.7 77.5 L434.3 77.1 L435.9 76.8 L437.4 76.5 L439.0 76.2 L440.6 75.9 L442.2 75.6 L443.7 75.3 L445.3 75.1 L446.9 74.8 L448.4 74.5 L450.0 74.2 L451.6 74.0 L453.2 73.7 L454.7 73.5 L456.3 73.2 L457.9 73.0 L459.5 72.7 L461.0 72.5 L462.6 72.3 L464.2 72.0 L465.7 71.8 L467.3 71.6 L468.9 71.3 L470.5 71.1 L472.0 70.9 L473.6 70.7 L475.2 70.5 L476.8 70.3 L478.3 70.1 L479.9 69.9 L481.5 69.7 L483.0 69.5 L484.6 69.3 L486.2 69.1 L487.8 68.9 L489.3 68.7 L490.9 68.5 L492.5 68.4 L494.1 68.2 L495.6 68.0 L497.2 67.8 L498.8 67.7 L500.3 67.5 L501.9 67.3 L503.5 67.2 L505.1 67.0 L506.6 66.9 L508.2 66.7 L509.8 66.5 L511.4 66.4 L512.9 66.2 L514.5 66.1 L516.1 65.9 L517.6 65.8 L519.2 65.7 L520.8 65.5 L522.4 65.4 L523.9 65.2 L525.5 65.1 L527.1 65.0 L528.7 64.8 L530.2 64.7 L531.8 64.6 L533.4 64.5 L534.9 64.3 L536.5 64.2 L538.1 64.1 L539.7 64.0 L541.2 63.8 L542.8 63.7 L544.4 63.6 L546.0 63.5 L547.5 63.4 L549.1 63.3 L550.7 63.2 L552.2 63.1 L553.8 62.9 L555.4 62.8 L557.0 62.7 L558.5 62.6 L560.1 62.5 L561.7 62.4 L563.3 62.3 L564.8 62.2 L566.4 62.1 L568.0 62.0 L569.5 62.0 L571.1 61.9 L572.7 61.8 L574.3 61.7 L575.8 61.6 L577.4 61.5 L579.0 61.4 L580.6 61.3 L582.1 61.2 L583.7 61.2 L585.3 61.1 L586.8 61.0 L588.4 60.9 L590.0 60.8 L591.6 60.8 L593.1 60.7 L594.7 60.6 L596.3 60.5 L597.9 60.5 L599.4 60.4 L601.0 60.3 L602.6 60.3 L604.1 60.2 L605.7 60.1 L607.3 60.0 L608.9 60.0 L610.4 59.9 L612.0 59.8 L613.6 59.8 L615.2 59.7 L616.7 59.7 L618.3 59.6 L619.9 59.5 L621.4 59.5 L623.0 59.4 L624.6 59.4 L626.2 59.3 L627.7 59.2 L629.3 59.2 L630.9 59.1 L632.5 59.1 L634.0 59.0 L635.6 59.0 L637.2 58.9 L638.7 58.9 L640.3 58.8 L641.9 58.8 L643.5 58.7 L645.0 58.7 L646.6 58.6 L648.2 58.6 L649.8 58.5 L651.3 58.5 L652.9 58.4 L654.5 58.4 L656.0 58.3 L657.6 58.3 L659.2 58.3 L660.8 58.2 L662.3 58.2 L663.9 58.1 L665.5 58.1 L667.1 58.0 L668.6 58.0 L670.2 58.0 L671.8 57.9 L673.3 57.9 L674.9 57.9 L676.5 57.8 L678.1 57.8 L679.6 57.7 L681.2 57.7 L682.8 57.7 L684.4 57.6 L685.9 57.6 L687.5 57.6 L689.1 57.5 L690.6 57.5 L692.2 57.5 L693.8 57.4 L695.4 57.4 L696.9 57.4 L698.5 57.4 L700.1 57.3 L701.7 57.3 L703.2 57.3 L704.8 57.2 L706.4 57.2 L707.9 57.2 L709.5 57.2 L711.1 57.1 L712.7 57.1 L714.2 57.1 L715.8 57.0 L717.4 57.0 L719.0 57.0 L720.5 57.0 L722.1 56.9 L723.7 56.9 L725.2 56.9 L726.8 56.9 L728.4 56.9 L730.0 56.8 L731.5 56.8 L733.1 56.8 L734.7 56.8 L736.3 56.7 L737.8 56.7 L739.4 56.7 L741.0 56.7 L742.5 56.7 L744.1 56.6 L745.7 56.6 L747.3 56.6 L748.8 56.6 L750.4 56.6 L752.0 56.5 L753.6 56.5 L755.1 56.5 L756.7 56.5 L758.3 56.5 L759.8 56.5 L761.4 56.4 L763.0 56.4 L764.6 56.4 L766.1 56.4 L767.7 56.4 L769.3 56.4 L770.9 56.3 L772.4 56.3 L774.0 56.3 L775.6 56.3 L777.1 56.3 L778.7 56.3 L780.3 56.2 L781.9 56.2 L783.4 56.2 L785.0 56.2 L786.6 56.2 L788.2 56.2 L789.7 56.2 L791.3 56.2 L792.9 56.1 L794.4 56.1 L796.0 56.1 L797.6 56.1 L799.2 56.1 L800.7 56.1 L802.3 56.1 L803.9 56.1 L805.5 56.0 L807.0 56.0 L808.6 56.0 L810.2 56.0 L811.7 56.0 L813.3 56.0 L814.9 56.0 L816.5 56.0 L818.0 56.0 L819.6 56.0 L821.2 55.9 L822.8 55.9 L824.3 55.9 L825.9 55.9 L826.8 55.9" stroke="#ff00ff" stroke-dasharray="3 3.2 3 9.3" stroke-dashoffset="-2"/>
</g>
<path d="M827.9 25.6V457" stroke="#000" stroke-width="2"/>
<rect x="454.9" y="276.7" width="351.6" height="170.6" fill="none" stroke="#000" stroke-width="1.7"/>
<text x="132" y="41.6" text-anchor="end">10<tspan class="s" dy="-18">0</tspan></text>
<text x="132" y="149.4" text-anchor="end">10<tspan class="s" dy="-18">-1</tspan></text>
<text x="132" y="257.3" text-anchor="end">10<tspan class="s" dy="-18">-2</tspan></text>
<text x="132" y="365.1" text-anchor="end">10<tspan class="s" dy="-18">-3</tspan></text>
<text x="132" y="473.0" text-anchor="end">10<tspan class="s" dy="-18">-4</tspan></text>
<text x="279.8" y="508.8" text-anchor="middle">10<tspan class="s" dy="-18">8</tspan></text>
<text x="701.2" y="508.8" text-anchor="middle">10<tspan class="s" dy="-18">9</tspan></text>
<text x="669" y="306.6" text-anchor="end">Y<tspan class="s" dy="10">e</tspan><tspan dy="-10"> = 0.05</tspan></text>
<path d="M689.9 297.70H785.1" stroke="#ff0000" stroke-width="5" fill="none"/>
<text x="669" y="352.6" text-anchor="end">0.10</text>
<path d="M689.9 340.65H785.1" stroke="#00ff00" stroke-width="5" fill="none" stroke-dasharray="6 3.3"/>
<text x="669" y="395.2" text-anchor="end">0.15</text>
<path d="M689.9 383.40H785.1" stroke="#0000ff" stroke-width="5" fill="none" stroke-dasharray="9.2 2.8 1.8 3.2"/>
<text x="669" y="437.6" text-anchor="end">0.20</text>
<path d="M689.9 426.30H785.1" stroke="#ff00ff" stroke-width="5" fill="none" stroke-dasharray="3 3.2 3 9.3"/>

<text x="490.5" y="561.7" text-anchor="middle">density, g cm<tspan class="s" dy="-18">-3</tspan></text>
<text transform="translate(37.3 241.6) rotate(-90)" text-anchor="middle">abundance, X<tspan class="s" style="font-size:29px" dy="10.2">A</tspan></text>
</svg>
</body></html>
